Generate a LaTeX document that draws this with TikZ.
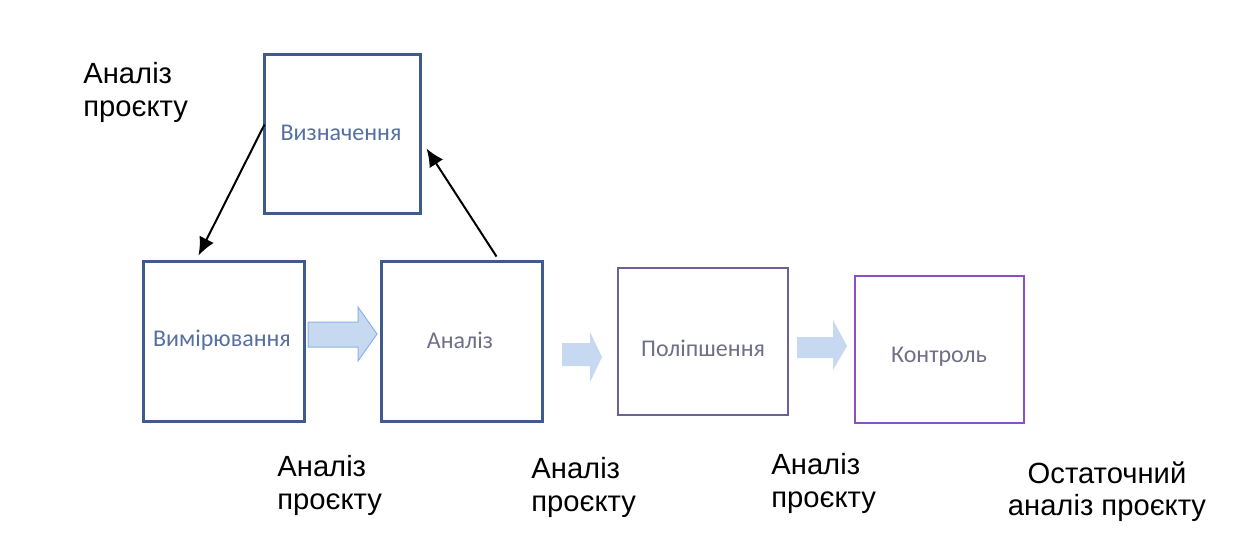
\documentclass[tikz,border=0pt]{standalone}
\usepackage{fontspec}
\setmainfont{Liberation Sans}
\newfontfamily\boxfont{Carlito}
\usetikzlibrary{calc,arrows.meta}
\definecolor{boxblue}{HTML}{3D5C8C}
\definecolor{boxplum}{HTML}{6E5F96}
\definecolor{boxviolet}{HTML}{8A50C8}
\definecolor{txtblue}{HTML}{5670A0}
\definecolor{txtgray}{HTML}{6F7088}
\definecolor{flowfill}{HTML}{C6D9F1}
\definecolor{flowedge}{HTML}{8EB4E3}
\tikzset{
  stage/.style={draw, rectangle, inner sep=0pt, fill=white},
  bluestage/.style={stage, draw=boxblue, line width=1.5pt},
  caption/.style={inner sep=0pt, font=\boxfont\fontsize{12}{14}\selectfont},
  note/.style={inner sep=0pt, align=left, font=\fontsize{14.6}{16.3}\selectfont, text=black},
  flow/.style={fill=flowfill, draw=flowedge, line width=0.5pt},
  link/.style={-{Latex[length=9pt,width=8pt]}, line width=1pt, black}
}
\begin{document}
\begin{tikzpicture}[x=0.5pt, y=-0.5pt]
\useasboundingbox[fill=white] (0,0) rectangle (1240,559);

% process stages
\node[bluestage, minimum width=78pt, minimum height=79.5pt] (def) at (342,133.5) {};
\node[caption, text=txtblue] (deftxt) at (341,133) {Визначення};
\node[bluestage, minimum width=80.5pt, minimum height=80pt] (meas) at (223.5,341) {};
\node[caption, text=txtblue] (meastxt) at (222,340) {Вимірювання};
\node[bluestage, minimum width=80.5pt, minimum height=80pt] (anal) at (461.5,341) {};
\node[caption, text=txtgray] (analtxt) at (460,340) {Аналіз};
\node[stage, draw=boxplum, line width=1.25pt, minimum width=85pt, minimum height=73.5pt] (impr) at (703,341.5) {};
\node[caption, text=txtgray] (imprtxt) at (703,348) {Поліпшення};
\node[stage, draw=boxviolet, line width=1.25pt, minimum width=84.5pt, minimum height=73.5pt] (ctrl) at (939.5,349.5) {};
\node[caption, text=txtgray] (ctrltxt) at (939,357) {Контроль};

% block arrows between stages
\draw[flow] (308,322) -- (358,322) -- (358,307) -- (377,334) -- (358,361) -- (358,347) -- (308,347) -- cycle;
\fill[flowfill] (562,343) -- (590,343) -- (590,332) -- (602,357) -- (590,382) -- (590,366) -- (562,366) -- cycle;
\fill[flowfill] (797,337) -- (833,337) -- (833,320) -- (847,346) -- (833,370) -- (833,358) -- (797,358) -- cycle;

% feedback loop
\coordinate (defout) at ($(def.north west)+(2,72)$);
\coordinate (measin) at ($(meas.north west)+(57,-4)$);
\coordinate (analout) at ($(anal.north west)+(117,-3)$);
\coordinate (defin) at ($(def.north east)+(5,96)$);
\draw[link] (defout) -- (measin);
\draw[link] (analout) -- (defin);

% review notes
\node[note, anchor=north west] (n0) at (83,62) {Аналіз\\проєкту};
\node[note, anchor=north west] (n1) at (277,455) {Аналіз\\проєкту};
\node[note, anchor=north west] (n2) at (531,457) {Аналіз\\проєкту};
\node[note, anchor=north west] (n3) at (771,453) {Аналіз\\проєкту};
\node[note, align=center, anchor=north] (n4) at (1107,461) {Остаточний\\аналіз проєкту};
\end{tikzpicture}
\end{document}
